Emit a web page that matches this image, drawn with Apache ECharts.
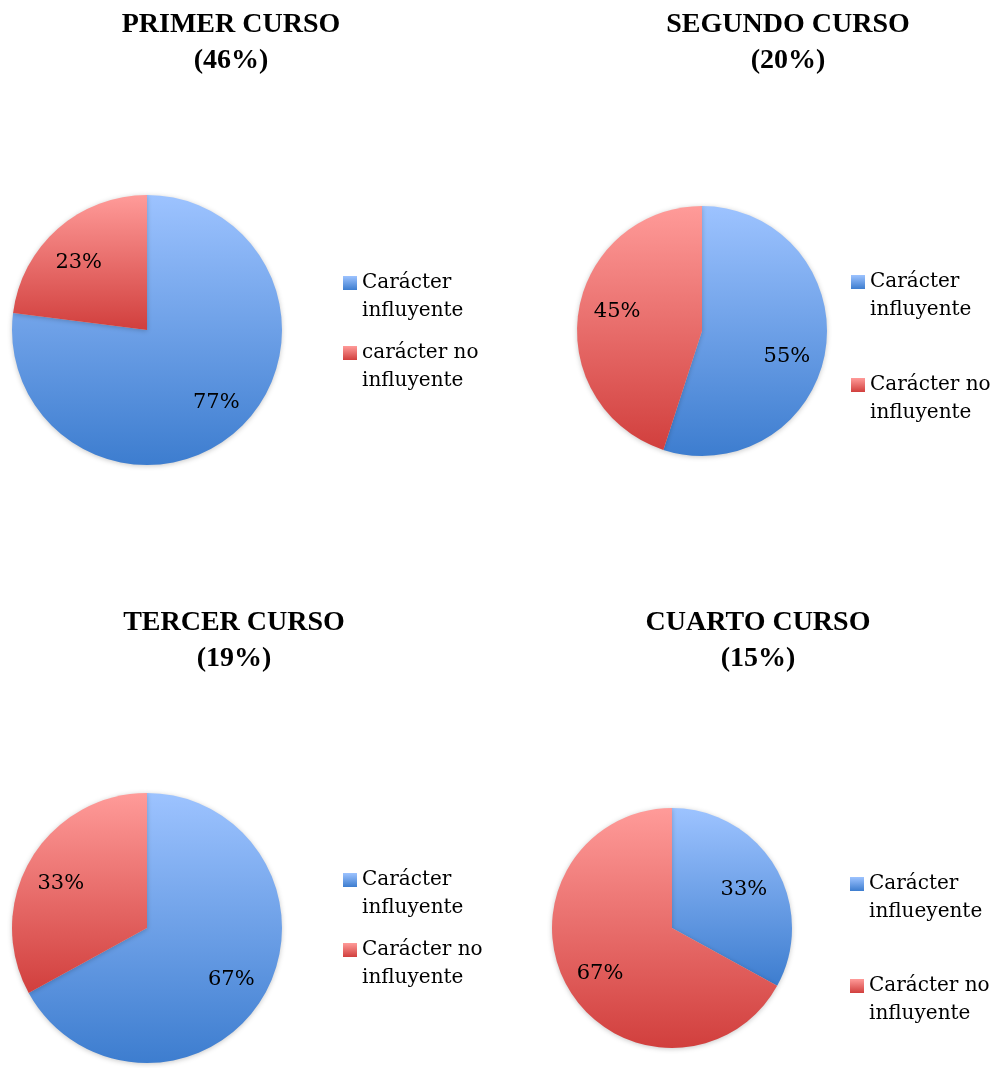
<!DOCTYPE html>
<html>
<head>
<meta charset="utf-8">
<script src="https://cdn.jsdelivr.net/npm/echarts@6/dist/echarts.min.js"></script>
<style>
  html, body { margin: 0; padding: 0; background: #ffffff; }
  #chart { width: 992px; height: 1068px; }
</style>
</head>
<body>
<div id="chart"></div>
<script>
// Panel titles: course and its share of respondents
const titles = ['PRIMER CURSO\n(46%)', 'SEGUNDO CURSO\n(20%)', 'TERCER CURSO\n(19%)', 'CUARTO CURSO\n(15%)'];

// Slice names per course (as written in each legend)
const categories1 = ['Carácter influyente', 'carácter no influyente'];
const categories2 = ['Carácter influyente', 'Carácter no influyente'];
const categories3 = ['Carácter influyente', 'Carácter no influyente'];
const categories4 = ['Carácter influeyente', 'Carácter no influyente'];

// Percentages per course
const values1 = [77, 23];
const values2 = [55, 45];
const values3 = [67, 33];
const values4 = [33, 67];

const categories = [categories1, categories2, categories3, categories4];
const values = [values1, values2, values3, values4];

// Geometry of each panel (label nudges are in pixels)
const panels = [
  { titleX: 231, titleY: 7,   cx: 147, cy: 330, r: 135, legendX: 343, legendY: 241, legendGap: -14,
    labelNudge: [[3, -3], [-2, 8]] },
  { titleX: 788, titleY: 7,   cx: 702, cy: 331, r: 125, legendX: 851, legendY: 240, legendGap: 19,
    labelNudge: [[-7, 11], [7, -5]] },
  { titleX: 234, titleY: 605, cx: 147, cy: 928, r: 135, legendX: 343, legendY: 838, legendGap: -14,
    labelNudge: [[-2, 1], [0, 7]] },
  { titleX: 758, titleY: 605, cx: 672, cy: 928, r: 120, legendX: 850, legendY: 842, legendGap: 18,
    labelNudge: [[-5, 7], [5, 0]] }
];

const serif = 'DejaVu Serif';

function grad(top, bottom) {
  return new echarts.graphic.LinearGradient(0, 0, 0, 1, [
    { offset: 0, color: top },
    { offset: 1, color: bottom }
  ]);
}
const blue = () => grad('#9dc3ff', '#3d7dcf');
const red = () => grad('#ff9b99', '#d13f3d');

// Legend entries: the square sits beside the first line, the last word wraps below
function wrapName(name) {
  return '\n' + name.replace(/ (\S+)$/, '\n$1');
}

const title = [];
const legend = [];
const series = [];

panels.forEach((p, i) => {
  title.push({
    text: titles[i],
    left: p.titleX,
    top: p.titleY,
    textAlign: 'center',
    padding: 0,
    textStyle: {
      fontFamily: 'Liberation Serif',
      fontWeight: 'bold',
      fontSize: 28,
      lineHeight: 36,
      color: '#000'
    }
  });

  legend.push({
    data: categories[i],
    orient: 'vertical',
    left: p.legendX,
    top: p.legendY,
    padding: 0,
    itemWidth: 14,
    itemHeight: 14,
    itemGap: p.legendGap,
    icon: 'rect',
    selectedMode: false,
    formatter: wrapName,
    textStyle: {
      fontFamily: serif,
      fontSize: 20,
      lineHeight: 28,
      color: '#000'
    }
  });

  const cols = [blue(), red()];
  const data = categories[i].map((name, k) => ({
    name: name,
    value: values[i][k],
    itemStyle: { color: cols[k] }
  }));

  // Visible pie
  series.push({
    type: 'pie',
    center: [p.cx, p.cy],
    radius: [0, p.r],
    startAngle: 90,
    clockwise: true,
    silent: true,
    label: { show: false },
    labelLine: { show: false },
    itemStyle: {
      borderWidth: 0,
      shadowBlur: 5,
      shadowColor: 'rgba(0,0,0,0.22)',
      shadowOffsetY: 1
    },
    emphasis: { disabled: true },
    data: data
  });

  // Transparent ring carrying the percentage labels
  series.push({
    type: 'pie',
    center: [p.cx, p.cy],
    radius: [p.r * 0.44, p.r],
    startAngle: 90,
    clockwise: true,
    silent: true,
    itemStyle: { color: 'rgba(0,0,0,0)', borderWidth: 0 },
    label: {
      show: true,
      position: 'inside',
      formatter: '{c}%',
      fontFamily: serif,
      fontSize: 21,
      color: '#000'
    },
    labelLine: { show: false },
    emphasis: { disabled: true },
    data: categories[i].map((name, k) => ({
      name: name,
      value: values[i][k],
      label: { offset: p.labelNudge[k] }
    }))
  });
});

const chart = echarts.init(document.getElementById('chart'));
chart.setOption({
  animation: false,
  backgroundColor: '#ffffff',
  title: title,
  legend: legend,
  series: series
});
</script>
</body>
</html>
